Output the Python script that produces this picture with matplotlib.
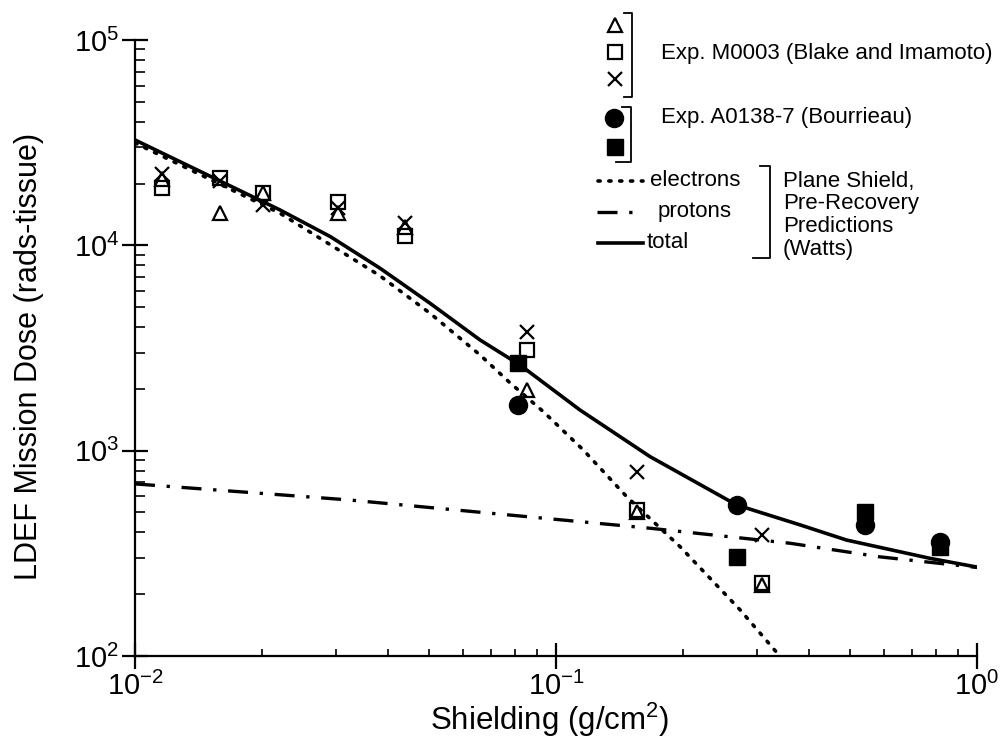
import matplotlib
matplotlib.use("Agg")
import matplotlib.pyplot as plt
from matplotlib.lines import Line2D

plt.rcParams['font.family'] = ['Liberation Sans', 'DejaVu Sans']
plt.rcParams['mathtext.fontset'] = 'custom'
plt.rcParams['mathtext.rm'] = 'Liberation Sans'
plt.rcParams['mathtext.it'] = 'Liberation Sans:italic'

# ---- data ----
# Exp. M0003 (Blake and Imamoto)
m_x = [0.0116, 0.0159, 0.0201, 0.0303, 0.0438, 0.0851, 0.1555, 0.308]
m_tri = [21000, 14400, 18000, 14400, 12300, 1980, 505, 222]
m_sq = [19000, 21300, 18000, 16300, 11100, 3090, 514, 226]
m_x_y = [22300, 20500, 15700, 15200, 12800, 3800, 787, 388]
# Exp. A0138-7 (Bourrieau)
b_x = [0.0811, 0.2686, 0.542, 0.817]
b_circ = [1670, 543, 435, 360]
b_sq = [2670, 303, 503, 341]
# Plane shield, pre-recovery predictions (Watts)
e_x = [0.01, 0.0221, 0.0382, 0.0502, 0.066, 0.0777, 0.0933, 0.1161, 0.1472, 0.197, 0.2735, 0.34]
e_y = [31500, 14330, 7100, 4670, 2926, 2143, 1549, 1008, 597, 341, 168, 100]
p_x = [0.01, 0.0324, 0.1673, 0.36, 0.588, 1.0]
p_y = [689, 575, 419, 354, 304, 270]
t_x = [0.01, 0.0221, 0.0291, 0.0382, 0.0502, 0.066, 0.0821, 0.114, 0.1673, 0.2686, 0.38, 0.49, 0.773, 1.0]
t_y = [32600, 14870, 11030, 7734, 5224, 3461, 2615, 1578, 935, 544, 435, 367, 299, 271]

W, H = 1000, 745
fig = plt.figure(figsize=(10, 7.45), dpi=100)
ax = fig.add_axes([135 / W, 1 - 656 / H, (977 - 135) / W, (656 - 40) / H])
ax.set_xscale('log')
ax.set_yscale('log')
ax.set_xlim(1e-2, 1e0)
ax.set_ylim(1e2, 1e5)

dot_style = (0, (0.6, 2.4))
dashdot_style = (0, (6, 3.5, 1, 3.5))
ax.plot(e_x, e_y, color='black', lw=2.6, linestyle=dot_style, dash_capstyle='round')
ax.plot(p_x, p_y, color='black', lw=2.4, linestyle=dashdot_style)
ax.plot(t_x, t_y, color='black', lw=2.6, solid_joinstyle='round')

ms = 10
ax.plot(m_x, m_tri, linestyle='none', marker='^', ms=ms, mfc='none', mec='black', mew=1.6)
ax.plot(m_x, m_sq, linestyle='none', marker='s', ms=ms, mfc='none', mec='black', mew=1.6)
ax.plot(m_x, m_x_y, linestyle='none', marker='x', ms=ms, mec='black', mew=1.6)
ax.plot(b_x, b_circ, linestyle='none', marker='o', ms=13, mfc='black', mec='black')
ax.plot(b_x, b_sq, linestyle='none', marker='s', ms=12, mfc='black', mec='black')

for s in ['top', 'right']:
    ax.spines[s].set_visible(False)
for s in ['left', 'bottom']:
    ax.spines[s].set_linewidth(1.6)

ax.set_yticks([1e2, 1e3, 1e4, 1e5])
ax.set_yticklabels([r'$\mathregular{10^{2}}$', r'$\mathregular{10^{3}}$',
                    r'$\mathregular{10^{4}}$', r'$\mathregular{10^{5}}$'])
ax.set_xticks([1e-2, 1e-1, 1e0])
ax.set_xticklabels([r'$\mathregular{10^{-2}}$', r'$\mathregular{10^{-1}}$', r'$\mathregular{10^{0}}$'])
ax.tick_params(which='major', direction='inout', length=19, width=1.6, labelsize=21, pad=2)
ax.tick_params(which='minor', direction='in', length=7, width=1.2)
ax.tick_params(axis='x', which='minor', length=5)

ax.set_xlabel(r'Shielding (g/cm$\mathregular{^2}$)', fontsize=22.5)
ax.xaxis.set_label_coords(0.4929, -0.072)
ax.set_ylabel('LDEF Mission Dose (rads-tissue)', fontsize=22)
ax.yaxis.set_label_coords(-0.108, 0.487)

# ---- legend (figure pixel coordinates) ----
def fx(px):
    return px / W


def fy(py):
    return 1 - py / H


def fline(xs, ys, **kw):
    fig.add_artist(Line2D([fx(v) for v in xs], [fy(v) for v in ys], transform=fig.transFigure, **kw))


fs = 16
fline([615], [25], marker='^', ms=ms, mfc='none', mec='black', mew=1.6, linestyle='none')
fline([615], [52], marker='s', ms=ms, mfc='none', mec='black', mew=1.6, linestyle='none')
fline([615], [79], marker='x', ms=ms, mec='black', mew=1.6, linestyle='none')
fline([624, 632, 632, 624], [13, 13, 97, 97], color='black', lw=1.3)
fig.text(fx(661), fy(53), 'Exp. M0003 (Blake and Imamoto)', fontsize=fs, va='center', ha='left')

fline([614], [118], marker='o', ms=13, mfc='black', mec='black', linestyle='none')
fline([615], [147], marker='s', ms=12, mfc='black', mec='black', linestyle='none')
fline([622, 631, 631, 616], [107, 107, 162, 162], color='black', lw=1.3)
fig.text(fx(661), fy(118), 'Exp. A0138-7 (Bourrieau)', fontsize=fs, va='center', ha='left')

fline([598, 643], [181, 181], color='black', lw=2.6, linestyle=dot_style, dash_capstyle='round')
fline([597, 640], [212, 212], color='black', lw=2.4, linestyle=dashdot_style)
fline([598, 643], [243, 243], color='black', lw=2.6)
fig.text(fx(650), fy(181), 'electrons', fontsize=fs, va='center', ha='left')
fig.text(fx(658), fy(211), 'protons', fontsize=fs, va='center', ha='left')
fig.text(fx(647), fy(243), 'total', fontsize=fs, va='center', ha='left')
fline([760, 770, 770, 753], [166, 166, 258, 258], color='black', lw=1.3)
for i, t in enumerate(['Plane Shield,', 'Pre-Recovery', 'Predictions', '(Watts)']):
    fig.text(fx(783), fy(181 + 23 * i), t, fontsize=fs, va='center', ha='left')

fig.savefig('out.png', dpi=100)
